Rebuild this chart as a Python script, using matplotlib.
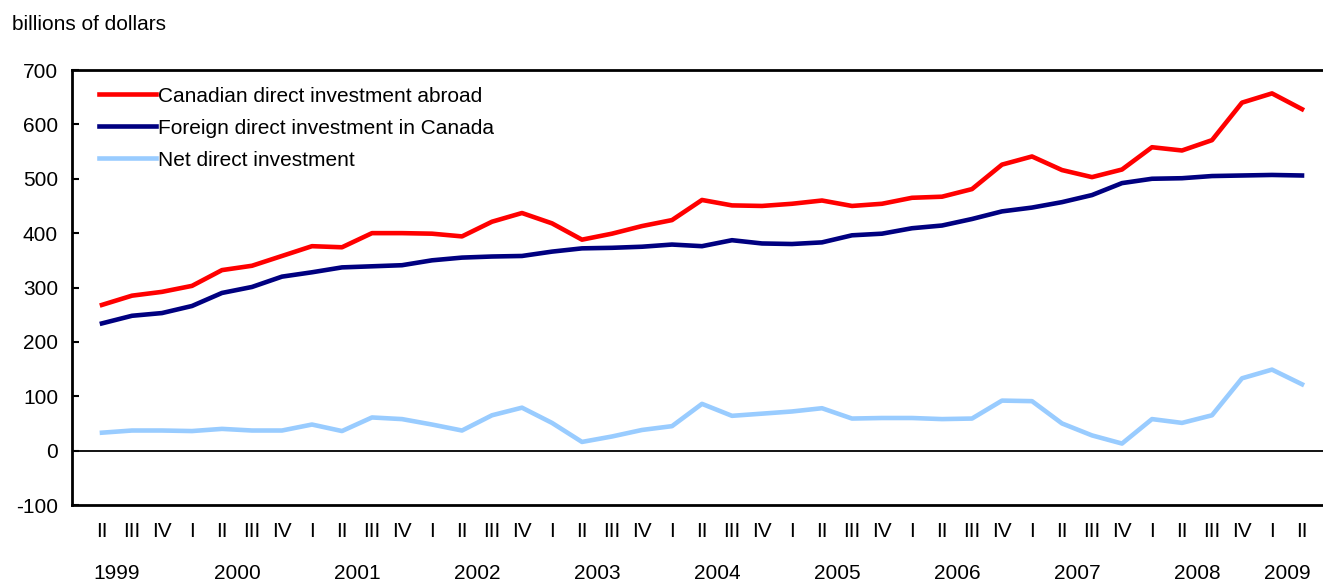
# Canadian and foreign direct investment, quarterly 1999 II - 2009 II
import numpy as np
import matplotlib.pyplot as plt
from matplotlib import transforms

plt.rcParams['font.family'] = ['Liberation Sans', 'DejaVu Sans']
plt.rcParams['axes.unicode_minus'] = False

# quarter labels (1999 II .. 2009 II)
quarters = ['II', 'III', 'IV'] + ['I', 'II', 'III', 'IV'] * 9 + ['I', 'II']
years = ['1999', '2000', '2001', '2002', '2003', '2004',
         '2005', '2006', '2007', '2008', '2009']

# billions of dollars
cdia = [268, 285, 292, 303, 332, 340, 358, 376, 374, 400, 400, 399, 394, 421,
        437, 418, 388, 399, 413, 424, 461, 451, 450, 454, 460, 450, 454, 465,
        467, 481, 526, 541, 516, 503, 517, 558, 552, 571, 640, 657, 628]
fdi = [234, 248, 253, 266, 290, 301, 320, 328, 337, 339, 341, 350, 355, 357,
       358, 366, 372, 373, 375, 379, 376, 387, 381, 380, 383, 396, 399, 409,
       414, 426, 440, 447, 457, 470, 492, 500, 501, 505, 506, 507, 506]
net = [33, 37, 37, 36, 40, 37, 37, 48, 36, 61, 58, 48, 37, 65,
       79, 51, 16, 26, 38, 45, 86, 64, 68, 72, 78, 59, 60, 60,
       58, 59, 92, 91, 50, 28, 13, 58, 51, 65, 133, 149, 122]

x = np.arange(len(quarters))
# year label sits between the 2nd and 3rd quarter shown for that year
year_pos = [0.5 + 4 * i for i in range(len(years) - 1)] + [len(quarters) - 1.5]

fs = 15
fig = plt.figure(figsize=(13.23, 5.82), dpi=100)
ax = fig.add_axes([0.0544, 0.1323, 0.9456, 0.7474])

ax.plot(x, cdia, color='#ff0000', lw=3.3, label='Canadian direct investment abroad')
ax.plot(x, fdi, color='#000080', lw=3.3, label='Foreign direct investment in Canada')
ax.plot(x, net, color='#99ccff', lw=3.3, label='Net direct investment')
ax.axhline(0, color='black', lw=1.3)

ax.set_xlim(-1, 40.7)
ax.set_ylim(-100, 700)
ax.set_yticks(range(-100, 701, 100))
ax.set_xticks(x)
ax.set_xticklabels(quarters)
ax.tick_params(axis='y', direction='in', length=5, width=1.5, pad=10, labelsize=fs)
ax.tick_params(axis='x', length=0, pad=12, labelsize=fs)

ax.spines['right'].set_visible(False)
for s in ['left', 'top', 'bottom']:
    ax.spines[s].set_linewidth(2)

# year labels under the quarters
trans = transforms.blended_transform_factory(ax.transData, ax.transAxes)
for xp, yr in zip(year_pos, years):
    ax.text(xp, -0.158, yr, transform=trans, ha='center', va='center', fontsize=fs)

fig.text(12 / 1323, 1 - 25 / 582, 'billions of dollars', ha='left', va='center', fontsize=fs)

ax.legend(loc='upper left', bbox_to_anchor=(0.008, 1.0), frameon=False, fontsize=fs,
          handlelength=2.75, handletextpad=0.12, labelspacing=0.62, borderaxespad=0.4)

fig.savefig('out.png', dpi=100)
